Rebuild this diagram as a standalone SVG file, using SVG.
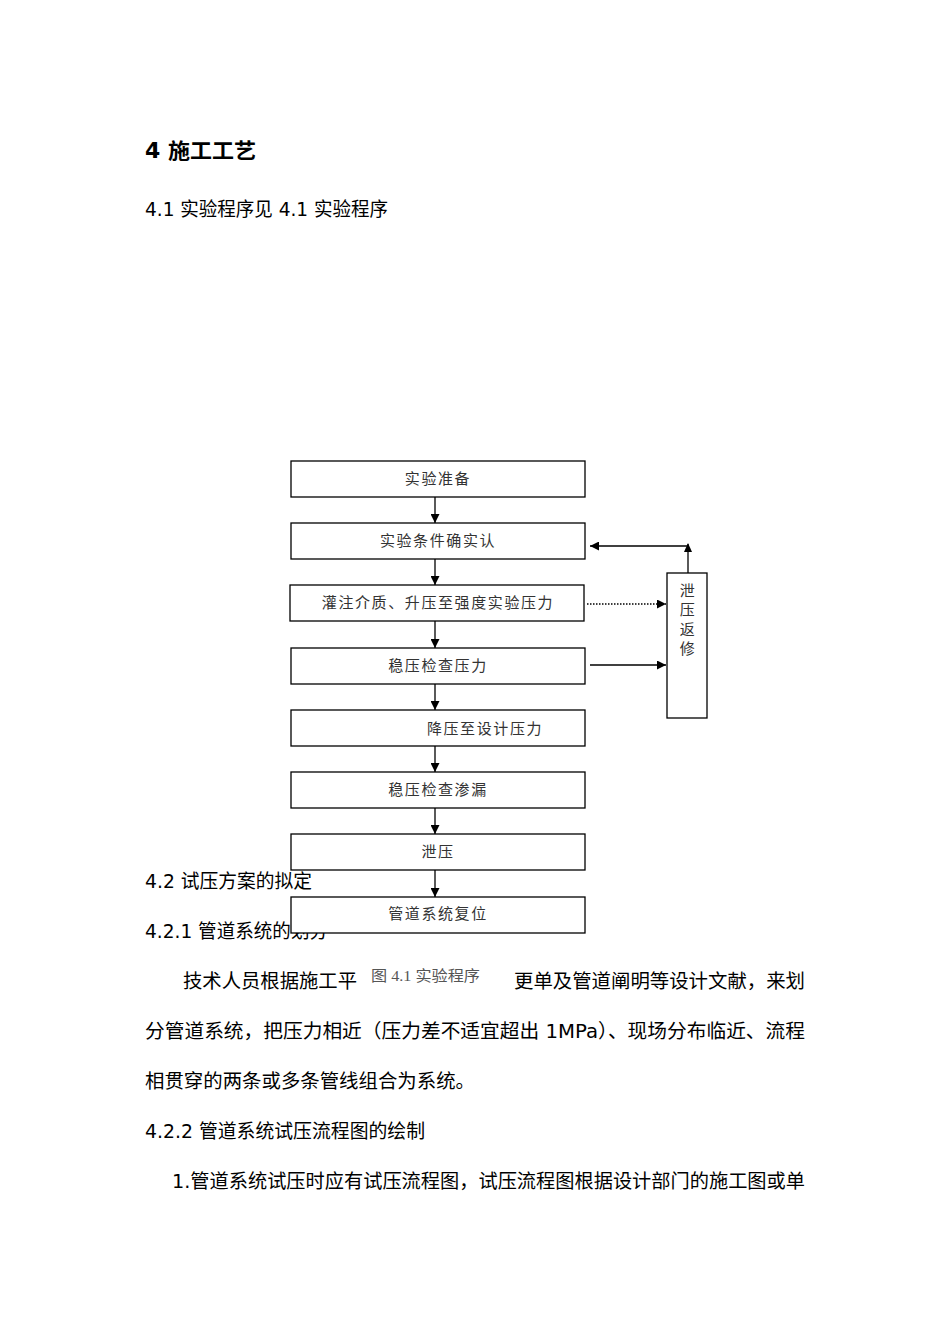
<svg xmlns="http://www.w3.org/2000/svg" width="950" height="1344" viewBox="0 0 950 1344">
<defs>
<style>
.body{font-family:"DejaVu Sans","Noto Sans CJK SC",sans-serif;font-size:19.5px;fill:#000}
.h{font-family:"DejaVu Sans","Noto Sans CJK SC",sans-serif;font-size:21px;font-weight:bold;fill:#000}
.bt{font-family:"Liberation Serif","Noto Sans CJK SC",serif;font-size:15px;fill:#333;text-anchor:middle;letter-spacing:1.6px}
.box{fill:#fff;stroke:#000;stroke-width:1.3}
.ln{stroke:#000;stroke-width:1.3;fill:none}
.dot{stroke:#000;stroke-width:1.3;fill:none;stroke-dasharray:1.5,1.5}
.cap{font-family:"Liberation Serif","Noto Sans CJK SC",serif;font-size:15px;fill:#555}
</style>
<marker id="ah" viewBox="0 0 10 10" refX="10" refY="5" markerWidth="9" markerHeight="9" markerUnits="userSpaceOnUse" orient="auto">
<path d="M0,0 L10,5 L0,10 z" fill="#000"/>
</marker>
</defs>
<rect width="950" height="1344" fill="#fff"/>
<g id="bodytext">
<text class="h" x="145" y="158" textLength="111" lengthAdjust="spacingAndGlyphs">4 施工工艺</text>
<text class="body" x="145" y="216" textLength="243" lengthAdjust="spacingAndGlyphs">4.1 实验程序见 4.1 实验程序</text>
<text class="body" x="145" y="888" textLength="167" lengthAdjust="spacingAndGlyphs">4.2 试压方案的拟定</text>
<text class="body" x="145" y="938" textLength="183" lengthAdjust="spacingAndGlyphs">4.2.1 管道系统的划分</text>
<text class="body" x="183" y="988" textLength="174" lengthAdjust="spacingAndGlyphs">技术人员根据施工平</text>
<text class="body" x="514" y="988" textLength="291" lengthAdjust="spacingAndGlyphs">更单及管道阐明等设计文献，来划</text>
<text class="body" x="145" y="1038" textLength="660" lengthAdjust="spacingAndGlyphs">分管道系统，把压力相近（压力差不适宜超出 1MPa）、现场分布临近、流程</text>
<text class="body" x="145" y="1088" textLength="330" lengthAdjust="spacingAndGlyphs">相贯穿的两条或多条管线组合为系统。</text>
<text class="body" x="145" y="1138" textLength="280" lengthAdjust="spacingAndGlyphs">4.2.2 管道系统试压流程图的绘制</text>
<text class="body" x="172" y="1188" textLength="633" lengthAdjust="spacingAndGlyphs">1.管道系统试压时应有试压流程图，试压流程图根据设计部门的施工图或单</text>
</g>
<g id="connectors">
<line class="ln" x1="435" y1="497" x2="435" y2="523" marker-end="url(#ah)"/>
<line class="ln" x1="435" y1="559" x2="435" y2="585" marker-end="url(#ah)"/>
<line class="ln" x1="435" y1="621" x2="435" y2="648" marker-end="url(#ah)"/>
<line class="ln" x1="435" y1="684" x2="435" y2="710" marker-end="url(#ah)"/>
<line class="ln" x1="435" y1="746" x2="435" y2="772" marker-end="url(#ah)"/>
<line class="ln" x1="435" y1="808" x2="435" y2="834" marker-end="url(#ah)"/>
<line class="ln" x1="435" y1="870" x2="435" y2="897" marker-end="url(#ah)"/>
<line class="dot" x1="587" y1="604" x2="666" y2="604" marker-end="url(#ah)"/>
<line class="ln" x1="590" y1="665" x2="666" y2="665" marker-end="url(#ah)"/>
<line class="ln" x1="688" y1="573" x2="688" y2="544"/>
<polygon points="688,543 684,552 692,552" fill="#000"/>
<line class="ln" x1="688" y1="546" x2="590" y2="546" marker-end="url(#ah)"/>
</g>
<g id="n1"><rect class="box" x="291" y="461" width="294" height="36"/><text class="bt" x="438" y="484">实验准备</text></g>
<g id="n2"><rect class="box" x="291" y="523" width="294" height="36"/><text class="bt" x="438" y="546">实验条件确实认</text></g>
<g id="n3"><rect class="box" x="290" y="585" width="294" height="36"/><text class="bt" x="438" y="608">灌注介质、升压至强度实验压力</text></g>
<g id="n4"><rect class="box" x="291" y="648" width="294" height="36"/><text class="bt" x="438" y="671">稳压检查压力</text></g>
<g id="n5"><rect class="box" x="291" y="710" width="294" height="36"/><text class="bt" x="485" y="734">降压至设计压力</text></g>
<g id="n6"><rect class="box" x="291" y="772" width="294" height="36"/><text class="bt" x="438" y="795">稳压检查渗漏</text></g>
<g id="n7"><rect class="box" x="291" y="834" width="294" height="36"/><text class="bt" x="438" y="857">泄压</text></g>
<g id="n8"><rect class="box" x="291" y="897" width="294" height="36"/><text class="bt" x="438" y="919">管道系统复位</text></g>
<g id="n9"><rect class="box" x="667" y="573" width="40" height="145"/>
<text class="bt" x="688" y="596">泄</text>
<text class="bt" x="688" y="615">压</text>
<text class="bt" x="688" y="635">返</text>
<text class="bt" x="688" y="654">修</text>
</g>
<g id="caption"><text class="cap" x="371" y="981" textLength="109" lengthAdjust="spacingAndGlyphs">图 4.1 实验程序</text></g>
</svg>
